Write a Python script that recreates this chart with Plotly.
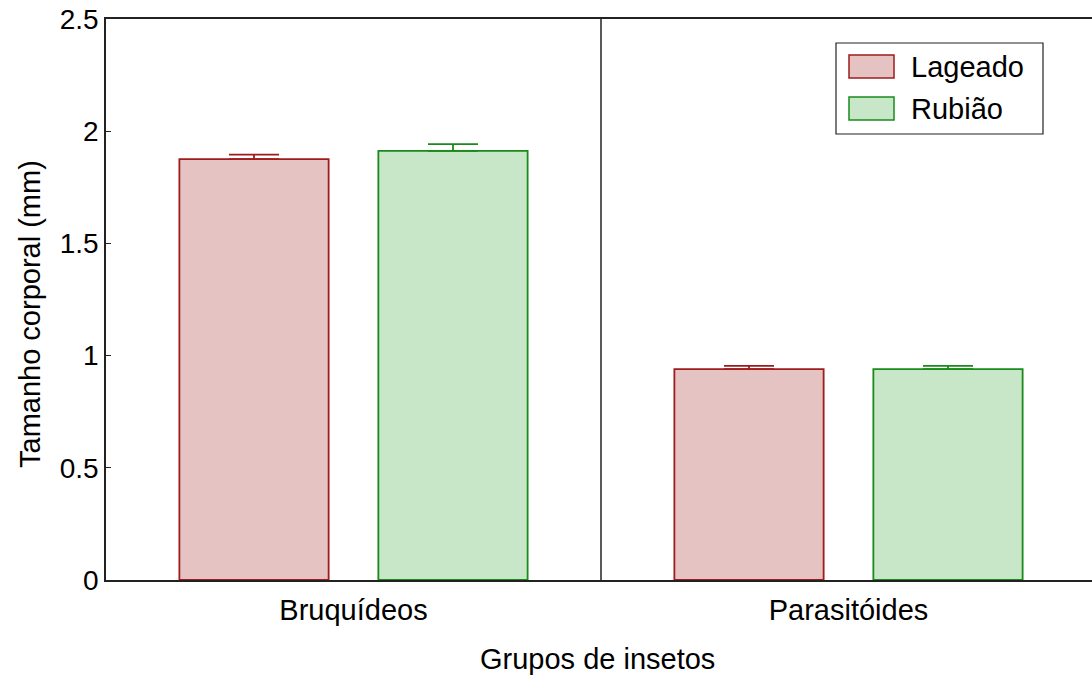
import plotly.graph_objects as go

categories = ["Bruquídeos", "Parasitóides"]
series_names = ["Lageado", "Rubião"]
lageado_mean = [1.876, 0.940]
lageado_err = [0.020, 0.014]
rubiao_mean = [1.912, 0.940]
rubiao_err = [0.030, 0.014]
y_ticks = [0, 0.5, 1, 1.5, 2, 2.5]
y_tick_labels = ["0", "0.5", "1", "1.5", "2", "2.5"]
x_title = "Grupos de insetos"
y_title = "Tamanho corporal (mm)"

fills = ["#e6c3c3", "#c8e6c8"]
edges = ["#9e1c1c", "#1a8a1a"]
FONT = "Liberation Sans, Arial, sans-serif"

FIG_W, FIG_H = 1092, 677
fig = go.Figure()
for name, mean, err, fc, ec in zip(series_names, [lageado_mean, rubiao_mean],
                                   [lageado_err, rubiao_err], fills, edges):
    fig.add_trace(go.Bar(
        x=categories, y=mean, name=name,
        marker=dict(color=fc, line=dict(color=ec, width=1.8)),
        error_y=dict(type="data", symmetric=False, array=err,
                     arrayminus=[0] * len(err), color=ec, thickness=1.8, width=25),
        showlegend=False,
    ))

# screen-coordinate targets
W0, W1 = 106, 1092
T, B = 19, 580
def px(x):
    return (x - W0) / (W1 - W0)
def py(y):
    return (B - y) / (B - T)

shapes = [
    dict(type="line", xref="x", yref="paper", x0=0.5, x1=0.5, y0=0, y1=1,
         line=dict(color="#222", width=1.5)),
    dict(type="rect", xref="paper", yref="paper", x0=px(836), x1=px(1043),
         y0=py(134), y1=py(43), line=dict(color="#222", width=1.2), fillcolor="white"),
]
annotations = []
for i, (name, fc, ec) in enumerate(zip(series_names, fills, edges)):
    ytop = 55 + i * 42
    shapes.append(dict(type="rect", xref="paper", yref="paper", x0=px(849), x1=px(894),
                       y0=py(ytop + 23), y1=py(ytop), fillcolor=fc,
                       line=dict(color=ec, width=1.5)))
    annotations.append(dict(xref="paper", yref="paper", x=px(909), y=py(ytop + 12),
                            text=name, showarrow=False, xanchor="left", yanchor="middle",
                            font=dict(size=29, color="black", family=FONT)))

annotations.append(dict(xref="paper", yref="paper", x=px(30), y=py(314), text=y_title,
                        textangle=-90, showarrow=False, xanchor="center", yanchor="middle",
                        font=dict(size=29, color="black", family=FONT)))
annotations.append(dict(xref="paper", yref="paper", x=px(597), y=py(659), text=x_title,
                        showarrow=False, xanchor="center", yanchor="middle",
                        font=dict(size=29, color="black", family=FONT)))

unit_px = 495.0
fig.update_layout(
    width=FIG_W, height=FIG_H,
    margin=dict(l=W0, r=FIG_W - W1, t=T, b=FIG_H - B),
    plot_bgcolor="white", paper_bgcolor="white",
    barmode="group", bargap=0.196, bargroupgap=0.25,
    font=dict(family=FONT, size=28, color="black"),
    shapes=shapes, annotations=annotations,
    xaxis=dict(range=[-0.5, -0.5 + (W1 - W0) / unit_px], showline=True, mirror=True,
               linecolor="#222", linewidth=1.5, ticks="", showgrid=False,
               tickfont=dict(size=29), ticklabelstandoff=3, automargin=False),
    yaxis=dict(range=[0, 2.5], tickvals=y_ticks, ticktext=y_tick_labels,
               showline=True, linecolor="#222", linewidth=1.5, ticks="inside",
               ticklen=5, tickcolor="#222", showgrid=False, zeroline=False,
               tickfont=dict(size=28), ticklabeloverflow="allow", automargin=False),
)

fig.write_html("out.html", config={"displayModeBar": False},
               post_script="document.body.style.margin='0';document.body.style.overflow='hidden';")
